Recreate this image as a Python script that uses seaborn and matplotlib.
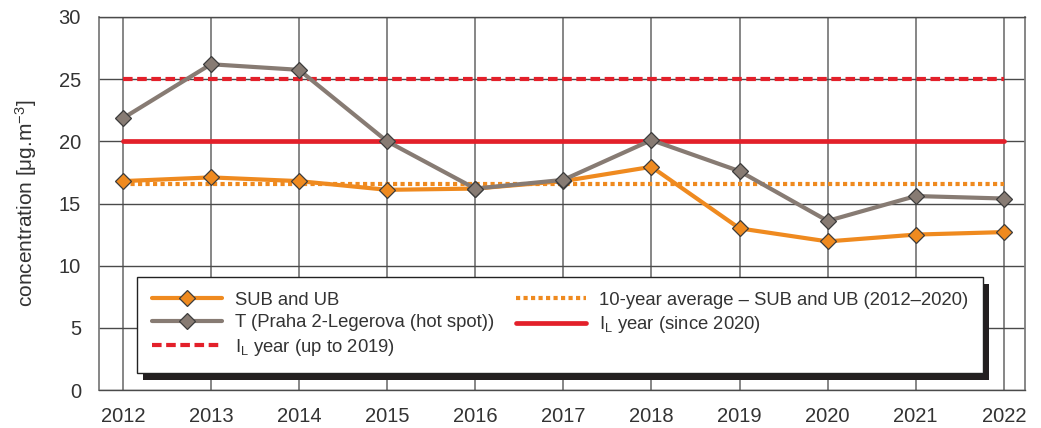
import numpy as np
import pandas as pd
import matplotlib
import matplotlib.pyplot as plt
import seaborn as sns
from matplotlib.lines import Line2D
from matplotlib.patches import Rectangle

# -----------------------------
# Data
# -----------------------------
years = [2012, 2013, 2014, 2015, 2016, 2017, 2018, 2019, 2020, 2021, 2022]
sub_ub = [16.8, 17.1, 16.8, 16.1, 16.2, 16.8, 17.95, 13.0, 11.95, 12.5, 12.7]
hot_spot = [21.85, 26.2, 25.75, 20.0, 16.2, 16.9, 20.1, 17.6, 13.6, 15.6, 15.4]
limit_up_to_2019 = 25
limit_since_2020 = 20
avg_sub_ub = 16.6

labels = [
    "SUB and UB",
    "T (Praha 2-Legerova (hot spot))",
    r"$\mathregular{I_L}$ year (up to 2019)",
    "10-year average \u2013 SUB and UB (2012\u20132020)",
    r"$\mathregular{I_L}$ year (since 2020)",
]

df = pd.DataFrame({"year": years, "sub_ub": sub_ub, "hot_spot": hot_spot})
df["lim25"] = limit_up_to_2019
df["lim20"] = limit_since_2020
df["avg"] = avg_sub_ub

# -----------------------------
# Style
# -----------------------------
sns.set_style("white")
plt.rcParams["font.family"] = ["Liberation Sans", "DejaVu Sans"]
plt.rcParams["mathtext.fontset"] = "custom"
plt.rcParams["mathtext.rm"] = "Liberation Sans"

c_orange = "#ef8a1f"
c_grey = "#877b73"
c_red = "#e3202a"
c_edge = "#3c3c3c"

fig = plt.figure(figsize=(10.41, 4.28), dpi=100)
ax = fig.add_axes([99 / 1041, 1 - 390 / 428, 926 / 1041, 373 / 428])

# limit lines
sns.lineplot(data=df, x="year", y="lim25", ax=ax, color=c_red, lw=3.0, zorder=3)
ax.lines[-1].set_dashes((2.3, 1.1))
ax.lines[-1].set_dash_capstyle("butt")
sns.lineplot(data=df, x="year", y="lim20", ax=ax, color=c_red, lw=3.4, zorder=3)
sns.lineplot(data=df, x="year", y="avg", ax=ax, color=c_orange, lw=3.0, zorder=3)
ax.lines[-1].set_dashes((1, 0.8))
ax.lines[-1].set_dash_capstyle("butt")

# measured series
sns.lineplot(data=df, x="year", y="sub_ub", ax=ax, color=c_orange, lw=3.0,
             marker="D", markersize=7.8, markerfacecolor=c_orange,
             markeredgecolor=c_edge, markeredgewidth=0.9, zorder=4)
sns.lineplot(data=df, x="year", y="hot_spot", ax=ax, color=c_grey, lw=3.0,
             marker="D", markersize=7.8, markerfacecolor=c_grey,
             markeredgecolor=c_edge, markeredgewidth=0.9, zorder=5)

# -----------------------------
# Axes
# -----------------------------
ax.set_xlim(2011.73, 2022.24)
ax.set_ylim(0, 30)
ax.set_xticks(years)
ax.set_xticks([2011.73], minor=True)
ax.set_yticks(range(0, 31, 5))
ax.set_xlabel("")
ax.set_ylabel("concentration [\u03bcg.m$\\mathregular{^{-3}}$]", fontsize=15,
              color="#333333", labelpad=14)
ax.tick_params(axis="x", which="both", direction="out", length=7, width=1.2,
               color="#7a7a7a", labelsize=14.5, labelcolor="#333333", pad=5)
ax.tick_params(axis="y", direction="out", length=7, width=1.0,
               color="#444444", labelsize=14.5, labelcolor="#333333", pad=6)
ax.xaxis.grid(True, color="#7d7d7d", lw=1.3)
ax.yaxis.grid(True, color="#4a4a4a", lw=1.0)
ax.set_axisbelow(True)
for side in ["left", "right"]:
    ax.spines[side].set_color("#7d7d7d")
    ax.spines[side].set_linewidth(1.3)
for side in ["top", "bottom"]:
    ax.spines[side].set_color("#4a4a4a")
    ax.spines[side].set_linewidth(1.0)

# -----------------------------
# Legend
# -----------------------------
handles = [
    Line2D([], [], color=c_orange, lw=3.0, marker="D", markersize=7.8,
           markerfacecolor=c_orange, markeredgecolor=c_edge, markeredgewidth=0.9),
    Line2D([], [], color=c_grey, lw=3.0, marker="D", markersize=7.8,
           markerfacecolor=c_grey, markeredgecolor=c_edge, markeredgewidth=0.9),
    Line2D([], [], color=c_red, lw=3.0, dashes=(2.3, 1.1), dash_capstyle="butt"),
    Line2D([], [], color=c_orange, lw=3.0, dashes=(1, 0.8), dash_capstyle="butt"),
    Line2D([], [], color=c_red, lw=3.4),
]
leg = ax.legend(handles, labels, ncol=2, loc="upper left",
                bbox_to_anchor=(0.041, 0.054, 0.9136, 0.249), mode="expand",
                frameon=True, fancybox=False, framealpha=1, facecolor="white",
                fontsize=13.3, numpoints=1,
                handlelength=3.8, handletextpad=0.7, labelspacing=0.3,
                borderpad=0.8, borderaxespad=0)
leg.get_frame().set_edgecolor("#222222")
leg.get_frame().set_linewidth(1.0)
leg.set_zorder(10)
for t in leg.get_texts():
    t.set_color("#333333")

# dark drop shadow behind the legend box
fig.canvas.draw()
bb = leg.get_window_extent()
inv = ax.transAxes.inverted()
(x0, y0), (x1, y1) = inv.transform([[bb.x0 + 6, bb.y0 - 7], [bb.x1 + 6, bb.y1 - 7]])
ax.add_patch(Rectangle((x0, y0), x1 - x0, y1 - y0, transform=ax.transAxes,
                       facecolor="#231f20", edgecolor="none", zorder=9,
                       clip_on=False))

fig.savefig("out.png", dpi=100)
plt.close(fig)
